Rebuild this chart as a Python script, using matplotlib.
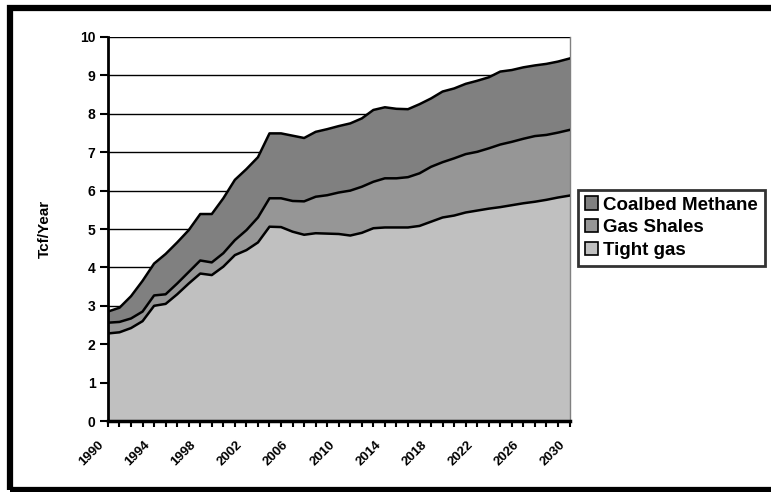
import numpy as np
import matplotlib
matplotlib.use('Agg')
import matplotlib.pyplot as plt
from matplotlib.patches import Patch, Rectangle
from matplotlib.transforms import ScaledTranslation

plt.rcParams['font.family'] = ['Liberation Sans', 'DejaVu Sans']
plt.rcParams['font.weight'] = 'bold'

years = np.arange(1990, 2031)

# Tcf/year per source
tight_gas = [2.28, 2.31, 2.42, 2.60, 3.00, 3.05, 3.30, 3.58, 3.84, 3.80,
             4.02, 4.32, 4.45, 4.65, 5.06, 5.05, 4.93, 4.85, 4.89, 4.88,
             4.87, 4.83, 4.90, 5.02, 5.04, 5.04, 5.04, 5.08, 5.19, 5.30,
             5.35, 5.43, 5.48, 5.53, 5.57, 5.62, 5.67, 5.71, 5.76, 5.82, 5.87]
gas_shales = [0.28, 0.27, 0.25, 0.25, 0.27, 0.25, 0.28, 0.30, 0.34, 0.33,
              0.35, 0.39, 0.52, 0.65, 0.74, 0.75, 0.80, 0.87, 0.95, 1.00,
              1.08, 1.17, 1.20, 1.21, 1.28, 1.28, 1.31, 1.37, 1.43, 1.44,
              1.49, 1.52, 1.53, 1.57, 1.63, 1.65, 1.68, 1.71, 1.69, 1.69, 1.71]
coalbed = [0.29, 0.37, 0.58, 0.80, 0.83, 1.05, 1.07, 1.09, 1.21, 1.26,
           1.43, 1.57, 1.59, 1.57, 1.69, 1.69, 1.70, 1.65, 1.69, 1.72,
           1.73, 1.75, 1.78, 1.87, 1.85, 1.81, 1.77, 1.80, 1.78, 1.84,
           1.82, 1.83, 1.85, 1.85, 1.90, 1.87, 1.86, 1.84, 1.85, 1.85, 1.86]

labels = ['Coalbed Methane', 'Gas Shales', 'Tight gas']
colors = {'Coalbed Methane': '#808080', 'Gas Shales': '#969696', 'Tight gas': '#c0c0c0'}
label_years = years[::4]
yticks = np.arange(0, 11, 1)

t = np.array(tight_gas)
m = t + np.array(gas_shales)
c = m + np.array(coalbed)

fig = plt.figure(figsize=(7.71, 4.92), dpi=100)
ax = fig.add_axes([0.140, 0.1443, 0.5987, 0.7805])

for yv in yticks[1:]:
    ax.axhline(yv, color='k', lw=1.0, zorder=1)

ax.fill_between(years, 0, t, color=colors['Tight gas'], lw=0, zorder=2)
ax.fill_between(years, t, m, color=colors['Gas Shales'], lw=0, zorder=2)
ax.fill_between(years, m, c, color=colors['Coalbed Methane'], lw=0, zorder=2)
for s in [t, m, c]:
    ax.plot(years, s, color='k', lw=1.8, zorder=3)

ax.set_xlim(years[0], years[-1])
ax.set_ylim(0, 10)
ax.set_yticks(yticks)
ax.set_yticklabels([str(v) for v in yticks], fontsize=10, fontweight='bold')
ax.set_xticks(years)
ax.set_xticklabels([])
# year labels drawn by hand: they end a little left of and below their tick
off = ax.get_xaxis_transform() + ScaledTranslation(-0.06, -0.22, fig.dpi_scale_trans)
for y in label_years:
    ax.text(y, 0, str(y), transform=off, fontsize=9.5, fontweight='bold', rotation=45,
            ha='right', va='center', rotation_mode='anchor')
ax.tick_params(axis='x', direction='out', length=4, width=1.5)
ax.tick_params(axis='y', direction='out', length=6, width=1.5, pad=3)
ax.spines['left'].set_linewidth(2)
ax.spines['bottom'].set_linewidth(2.5)
ax.spines['top'].set_visible(False)
ax.spines['right'].set_color('#808080')
ax.spines['right'].set_linewidth(1)
ax.set_ylabel('Tcf/Year', fontsize=11, fontweight='bold', labelpad=20)

handles = [Patch(facecolor=colors[l], edgecolor='k', lw=1.2, label=l) for l in labels]
leg = fig.legend(handles=handles, loc='upper left', bbox_to_anchor=(0.7497, 0.614),
                 prop={'size': 13.5, 'weight': 'bold'}, frameon=True, fancybox=False,
                 handlelength=0.7, handleheight=0.7, handletextpad=0.3,
                 labelspacing=0.3, borderpad=0.35, borderaxespad=0)
leg.get_frame().set_edgecolor('k')
leg.get_frame().set_linewidth(2)

# thick outer frame, open on the right edge like the source crop
fig.patches.append(Rectangle((10 / 771, 2.5 / 492), 1.2, 482 / 492, transform=fig.transFigure,
                             fill=False, edgecolor='k', lw=4.5, zorder=10))

fig.savefig('out.png', dpi=100)
